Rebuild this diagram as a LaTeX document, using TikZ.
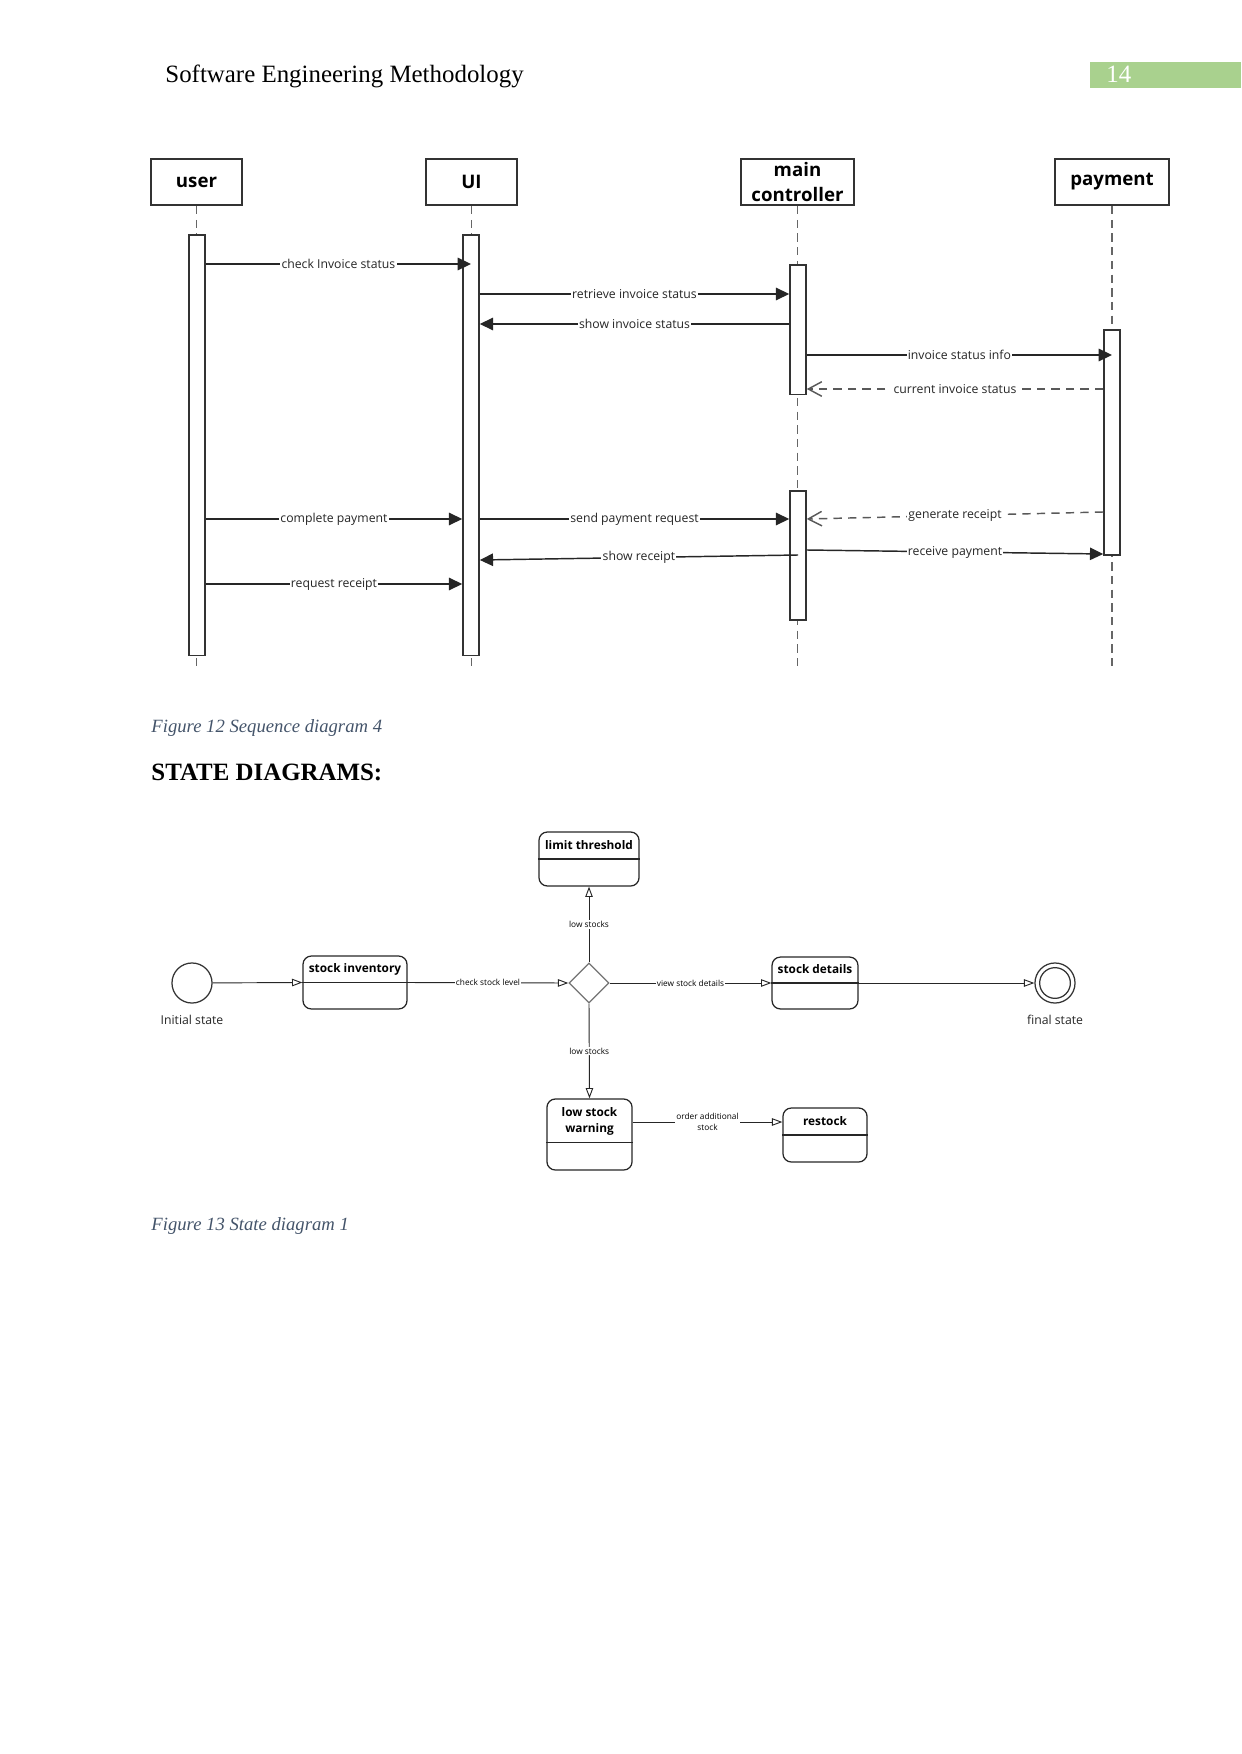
\documentclass[tikz,border=0pt]{standalone}
\usepackage{fontspec}
\setmainfont{Liberation Serif}
\setsansfont{Open Sans}
\usepackage{tikz}
\usetikzlibrary{arrows.meta, positioning, calc, shapes.geometric}
\definecolor{hdrgreen}{HTML}{A9D18E}
\definecolor{capgray}{HTML}{44546A}
\definecolor{linegray}{HTML}{333333}

\begin{document}
\begin{tikzpicture}[x=0.4818pt, y=-0.4818pt,
  obj/.style={draw=linegray, line width=1pt, minimum height=22.2pt, inner sep=0pt,
    align=center, font=\sffamily\bfseries\fontsize{9}{12}\selectfont},
  act/.style={draw=linegray, fill=white, line width=0.75pt, anchor=north,
    minimum width=7.7pt, inner sep=0pt},
  life/.style={draw=black!60, line width=0.75pt, dash pattern=on 4pt off 2.6pt},
  msg/.style={draw=black!85, line width=0.7pt, -{Triangle[length=6.4pt,width=6pt]}},
  reply/.style={draw=black!65, line width=0.7pt, dash pattern=on 4pt off 3pt,
    -{Straight Barb[length=6.5pt,width=7pt]}},
  lbl/.style={fill=white, inner sep=0.6pt, text=black!85,
    font=\sffamily\fontsize{5.9}{6.5}\selectfont},
  state/.style={draw=black!85, line width=0.6pt, rounded corners=4pt, inner sep=0pt},
  stitle/.style={inner sep=0pt, align=center,
    font=\sffamily\bfseries\fontsize{5.7}{7.8}\selectfont},
  trans/.style={draw=black!85, line width=0.45pt, -{Triangle[open,length=5pt,width=3.6pt]}},
  tlbl/.style={fill=white, inner sep=0.5pt, align=center,
    font=\sffamily\fontsize{4}{5.4}\selectfont},
  caption/.style={anchor=base west, inner sep=0pt, text=capgray,
    font=\itshape\fontsize{9}{11}\selectfont}]
\useasboundingbox (0,0) rectangle (1241,1754);

% page header
\node[anchor=base west, inner sep=0pt, font=\fontsize{12}{14}\selectfont] (hdr) at (165,83) {Software Engineering Methodology};
\fill[hdrgreen] (1090,62) rectangle (1241,88);
\node[anchor=base west, inner sep=0pt, text=white, font=\fontsize{12}{14}\selectfont] (pg) at (1106,83) {14};

% sequence diagram
\node[obj, minimum width=43.8pt] (user) at (196.5,182) {\raisebox{-1pt}{user}};
\node[obj, minimum width=43.8pt] (ui) at (471.5,182) {\raisebox{-1pt}{UI}};
\node[obj, minimum width=54.4pt] (ctrl) at (797.5,182) {main\\controller};
\node[obj, minimum width=54.9pt] (pay) at (1112,182) {\raisebox{-1pt}{payment}};

\coordinate (lifeend) at (0,668);
\draw[life] (user.south) -- (user.south |- lifeend);
\draw[life] (ui.south) -- (ui.south |- lifeend);
\draw[life] (ctrl.south) -- (ctrl.south |- lifeend);
\draw[life] (pay.south) -- (pay.south |- lifeend);

\node[act, minimum height=202.8pt] (userA) at (197,234) {};
\node[act, minimum height=202.8pt] (uiA) at (471,234) {};
\node[act, minimum height=62.6pt] (ctrlA) at (798,264) {};
\node[act, minimum height=62.2pt] (ctrlB) at (798,490) {};
\node[act, minimum height=108.4pt] (payA) at (1112,329) {};

\coordinate (yChk) at (0,264);
\coordinate (yRet) at (0,294);
\coordinate (yShw) at (0,324);
\coordinate (yInf) at (0,355);
\coordinate (yCur) at (0,389);
\coordinate (yCmp) at (0,519);
\coordinate (yGenA) at (0,512);
\coordinate (yGenB) at (0,519);
\coordinate (yRcvA) at (0,550);
\coordinate (yRcvB) at (0,554);
\coordinate (yRctA) at (0,555);
\coordinate (yRctB) at (0,560);
\coordinate (yReq) at (0,584);

\draw[msg] (userA.east |- yChk) -- node[lbl] {check Invoice status} (uiA.center |- yChk);
\draw[msg] (uiA.east |- yRet) -- node[lbl] {retrieve invoice status} (ctrlA.west |- yRet);
\draw[msg] (ctrlA.west |- yShw) -- node[lbl] {show invoice status} (uiA.east |- yShw);
\draw[msg] (ctrlA.east |- yInf) -- node[lbl] {invoice status info} (payA.center |- yInf);
\draw[reply] (payA.west |- yCur) -- node[lbl] {current invoice status} (ctrlA.east |- yCur);
\draw[msg] (userA.east |- yCmp) -- node[lbl] {complete payment} (uiA.west |- yCmp);
\draw[msg] (uiA.east |- yCmp) -- node[lbl] {send payment request} (ctrlB.west |- yCmp);
\draw[reply] (payA.west |- yGenA) -- node[lbl] {generate receipt} (ctrlB.east |- yGenB);
\draw[msg] (ctrlB.east |- yRcvA) -- node[lbl] {receive payment} (payA.west |- yRcvB);
\draw[msg] (ctrlB.center |- yRctA) -- node[lbl] {show receipt} (uiA.east |- yRctB);
\draw[msg] (userA.east |- yReq) -- node[lbl] {request receipt} (uiA.west |- yReq);

\node[caption] (cap12) at (151,732) {Figure 12 Sequence diagram 4};
\node[anchor=base west, inner sep=0pt, font=\bfseries\fontsize{12}{14}\selectfont] (sec) at (151,780) {STATE DIAGRAMS:};

% state diagram
\node[circle, draw=black!80, line width=0.6pt, minimum size=19.3pt, inner sep=0pt,
  label={[font=\sffamily\fontsize{5.9}{7}\selectfont, text=black!85, label distance=2pt]below:Initial state}] (init) at (192,983) {};
\node[state, minimum width=50.1pt, minimum height=25.5pt] (inv) at (355,982.5) {};
\node[state, minimum width=48.2pt, minimum height=26pt] (thr) at (589,859) {};
\node[diamond, draw=black!55, line width=0.6pt, minimum width=19.3pt, minimum height=19.3pt, inner sep=0pt] (dec) at (589,983) {};
\node[state, minimum width=41.4pt, minimum height=25pt] (det) at (815,983) {};
\node[circle, draw=black!80, line width=0.6pt, minimum size=19.3pt, inner sep=0pt,
  label={[font=\sffamily\fontsize{5.9}{7}\selectfont, text=black!85, label distance=2pt]below:final state}] (fin) at (1055,983) {};
\draw[black!80, line width=0.6pt] (fin.center) circle[radius=7.4pt];
\node[state, minimum width=41pt, minimum height=34.2pt] (warn) at (589.5,1134.5) {};
\node[state, minimum width=40.5pt, minimum height=26pt] (rst) at (825,1135) {};

\node[stitle] (invT) at ($(inv.north)+(0,14)$) {stock inventory};
\node[stitle] (thrT) at ($(thr.north)+(0,14)$) {limit threshold};
\node[stitle] (detT) at ($(det.north)+(0,13)$) {stock details};
\node[stitle] (warnT) at ($(warn.north)+(0,23)$) {low stock\\warning};
\node[stitle] (rstT) at ($(rst.north)+(0,14)$) {restock};

\draw[black!85, line width=0.5pt] (inv.west) -- (inv.east);
\draw[black!85, line width=0.5pt] (thr.west) -- (thr.east);
\draw[black!85, line width=0.5pt] (det.west) -- (det.east);
\draw[black!85, line width=0.5pt] ($(warn.north west)+(0,44)$) -- ($(warn.north east)+(0,44)$);
\draw[black!85, line width=0.5pt] (rst.west) -- (rst.east);

\coordinate (yOrd) at (0,1122);
\draw[trans] (init) -- (inv.west);
\draw[trans] (inv.east) -- node[tlbl] {check stock level} (dec.west);
\draw[trans] (dec.north) -- node[tlbl] {low stocks} (thr.south);
\draw[trans] (dec.east) -- node[tlbl] {view stock details} (det.west);
\draw[trans] (det.east) -- (fin.west);
\draw[trans] (dec.south) -- node[tlbl] {low stocks} (warn.north);
\draw[trans] (warn.east |- yOrd) -- node[tlbl] {order additional\\stock} (rst.west |- yOrd);

\node[caption] (cap13) at (151,1230) {Figure 13 State diagram 1};
\end{tikzpicture}
\end{document}
